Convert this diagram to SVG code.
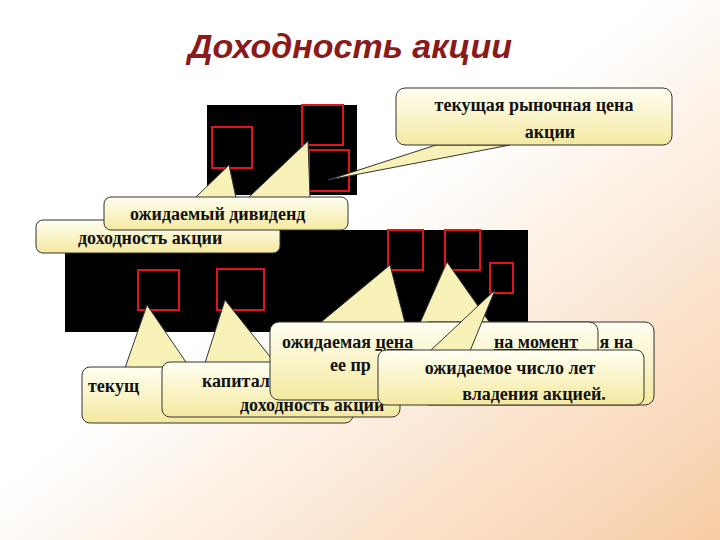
<svg xmlns="http://www.w3.org/2000/svg" width="720" height="540" viewBox="0 0 720 540">
<defs>
<linearGradient id="bg" x1="0" y1="0" x2="1" y2="1"><stop offset="0.45" stop-color="#ffffff"/><stop offset="1" stop-color="#f8cda6"/></linearGradient>
<linearGradient id="cy" x1="0" y1="0" x2="0" y2="1"><stop offset="0" stop-color="#fffff2"/><stop offset="1" stop-color="#f4e9a0"/></linearGradient>
<style>
.box{fill:url(#cy);stroke:#333;stroke-width:1}
.tail{fill:#f8f2b8;stroke:#333;stroke-width:1}
.blk{fill:#000}
.sq{fill:none;stroke:#e0141e;stroke-width:2}
.t{font-family:'Liberation Serif','DejaVu Serif',serif;font-weight:bold;font-size:18px;fill:#111}
.title{font-family:'Liberation Sans',sans-serif;font-weight:bold;font-style:italic;font-size:34px;fill:#8b1a1a}
</style>
</defs>
<rect width="720" height="540" fill="url(#bg)"/>
<text class="title" x="350" y="58" text-anchor="middle">Доходность акции</text>
<g id="formula1">
<rect class="blk" x="207" y="105" width="150" height="90"/>
<rect class="sq" x="212" y="127" width="40" height="41"/>
<rect class="sq" x="302" y="105" width="41" height="40"/>
<rect class="sq" x="309" y="150" width="40" height="41"/>
</g>
<g id="formula2">
<rect class="blk" x="65" y="230" width="463" height="102"/>
<rect class="sq" x="138" y="270" width="41" height="40"/>
<rect class="sq" x="217" y="269" width="47" height="41"/>
<rect class="sq" x="388" y="230" width="35" height="40"/>
<rect class="sq" x="445" y="230" width="35" height="40"/>
<rect class="sq" x="490" y="263" width="23" height="30"/>
</g>
<g id="connectors">
<polygon class="tail" points="436,145 328,180 510,145"/>
<polygon class="tail" points="195,198 229,165 236,198"/>
<polygon class="tail" points="248,198 308,141 310,198"/>
<polygon class="tail" points="125,368 147,305 190,368"/>
<polygon class="tail" points="205,363 225,300 275,363"/>
<polygon class="tail" points="320,323 390,265 405,323"/>
<polygon class="tail" points="420,323 447,262 490,323"/>
</g>
<g id="callout-price">
<rect class="box" x="396" y="88" width="276" height="57" rx="9"/>
<text class="t" x="534" y="111" text-anchor="middle">текущая рыночная цена</text>
<text class="t" x="550" y="138" text-anchor="middle">акции</text>
</g>
<g id="callout-yield">
<rect class="box" x="36" y="220" width="244" height="33" rx="7"/>
<text class="t" x="78" y="244">доходность акции</text>
</g>
<g id="callout-dividend">
<rect class="box" x="104" y="197" width="244" height="33" rx="7"/>
<text class="t" x="130" y="220">ожидаемый дивиденд</text>
</g>
<g id="callout-current">
<rect class="box" x="82" y="367" width="271" height="56" rx="8"/>
<text class="t" x="88" y="392">текущ</text>
</g>
<g id="callout-capital">
<rect class="box" x="162" y="362" width="238" height="55" rx="8"/>
<text class="t" x="202" y="387">капитал</text>
<text class="t" x="240" y="411">доходность акции</text>
</g>
<g id="callout-future-back">
<rect class="box" x="420" y="322" width="234" height="83" rx="9"/>
<text class="t" x="633" y="348" text-anchor="end">я на</text>
</g>
<g id="callout-future">
<rect class="box" x="270" y="322" width="328" height="78" rx="9"/>
<text class="t" x="282" y="348">ожидаемая <tspan text-decoration="underline">цена</tspan></text>
<text class="t" x="494" y="348" text-decoration="underline">на момент</text>
<text class="t" x="330" y="371">ее пр</text>
</g>
<g id="callout-years">
<polygon class="tail" points="430,351 495,290 470,351"/>
<rect class="box" x="378" y="350" width="266" height="55" rx="8"/>
<text class="t" x="510" y="374" text-anchor="middle">ожидаемое число лет</text>
<text class="t" x="534" y="400" text-anchor="middle">владения акцией.</text>
</g>
</svg>
